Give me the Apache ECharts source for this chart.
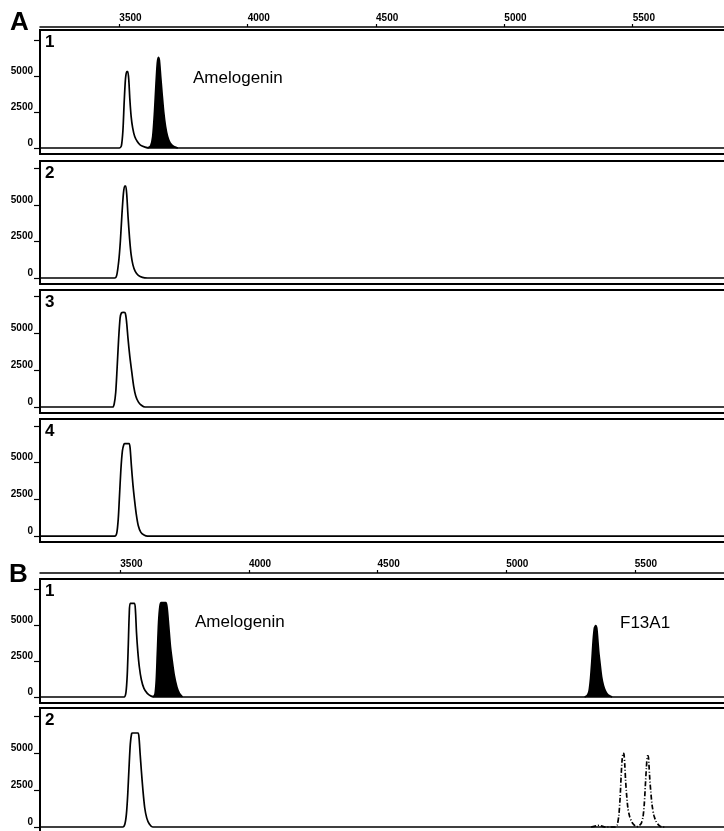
<!DOCTYPE html>
<html><head><meta charset="utf-8">
<script src="https://cdn.jsdelivr.net/npm/echarts@6/dist/echarts.min.js"></script>
<style>html,body{margin:0;padding:0;background:#fff}#c{width:724px;height:831px}</style>
</head><body><div id="c"></div>
<script>
// ---- data (size units vs. fluorescence) ----
const sizeTicks = [3500, 4000, 4500, 5000, 5500];
const yTicks = [0, 2500, 5000, 7500];
const yLabels = [0, 2500, 5000];
const panelLabels = ['A', 'B'];
const laneLabelsA = ['1', '2', '3', '4'];
const laneLabelsB = ['1', '2'];
const peakNames = ['Amelogenin', 'F13A1'];

const a1Open = [[3180,0],[3500,0],[3508,150],[3514,1200],[3519,3200],[3524,4800],[3529,5300],[3533,5300],[3537,4700],[3541,3400],[3546,2200],[3552,1400],[3560,800],[3570,450],[3582,200],[3600,60],[3615,0],[5900,0]];
const a1Filled = [[3610,0],[3622,150],[3630,800],[3637,2500],[3643,4500],[3648,5900],[3652,6300],[3656,6100],[3661,5000],[3667,3700],[3673,2500],[3680,1500],[3688,800],[3698,350],[3712,100],[3728,0]];
const a2Open = [[3180,0],[3482,0],[3490,200],[3498,1200],[3504,2500],[3510,4300],[3516,5800],[3521,6300],[3525,6300],[3529,5700],[3534,4200],[3540,2700],[3546,1600],[3553,900],[3562,450],[3574,180],[3590,40],[3610,0],[5900,0]];
const a3Open = [[3180,0],[3474,0],[3480,200],[3486,1000],[3491,2500],[3497,4500],[3503,6000],[3508,6350],[3516,6400],[3523,6350],[3528,5800],[3534,4600],[3541,3400],[3549,2300],[3556,1400],[3564,750],[3574,350],[3586,120],[3600,0],[5900,0]];
const a4Open = [[3180,0],[3482,0],[3490,200],[3496,1200],[3500,2500],[3506,4500],[3512,5800],[3518,6250],[3522,6300],[3538,6300],[3542,6000],[3547,4800],[3553,3500],[3559,2500],[3566,1500],[3574,700],[3584,250],[3598,50],[3610,0],[5900,0]];
const b1Open = [[3180,0],[3515,0],[3522,300],[3527,1500],[3531,3500],[3535,5800],[3539,6500],[3555,6500],[3559,6000],[3563,4500],[3568,3200],[3574,2100],[3582,1200],[3592,600],[3605,250],[3620,60],[3635,0],[5900,0]];
const b1FilledAmel = [[3628,0],[3635,200],[3640,1200],[3644,3000],[3649,5200],[3654,6300],[3659,6550],[3677,6550],[3682,6200],[3688,5000],[3695,3500],[3702,2500],[3710,1500],[3720,700],[3730,250],[3742,0]];
const b1FilledF13 = [[5305,0],[5315,100],[5322,400],[5328,1300],[5333,2500],[5338,3900],[5343,4800],[5348,4950],[5352,4800],[5356,4000],[5360,3100],[5365,2300],[5371,1400],[5378,800],[5386,400],[5396,150],[5412,0]];
const b2Open = [[3180,0],[3510,0],[3518,200],[3524,900],[3529,2200],[3534,4000],[3539,5600],[3544,6300],[3548,6350],[3569,6350],[3573,6000],[3577,5000],[3582,3800],[3588,2500],[3595,1300],[3603,600],[3613,200],[3626,0],[5900,0]];
const b2Dashed = [[5330,0],[5352,80],[5362,120],[5372,60],[5385,0],[5425,0],[5432,150],[5438,800],[5443,2000],[5447,3500],[5451,4600],[5455,5000],[5458,4900],[5461,4200],[5464,3200],[5468,2200],[5473,1300],[5480,700],[5489,320],[5498,120],[5507,20],[5515,60],[5525,250],[5532,700],[5537,1600],[5541,2800],[5545,4000],[5549,4800],[5552,4800],[5555,4200],[5558,3300],[5562,2400],[5567,1500],[5574,800],[5582,400],[5592,150],[5605,0],[5620,0]];

// ---- layout ----
const FONT = '"Liberation Sans", Arial, sans-serif';
const xRangeA = [3191, 5879];
const xRangeB = [3188, 5870];
const panels = [
  {top:30,  height:124, ymin:-417, ymax:8194, xr:xRangeA, axisOffset:3, lane:laneLabelsA[0]},
  {top:161, height:123, ymin:-411, ymax:8014, xr:xRangeA, lane:laneLabelsA[1]},
  {top:290, height:123, ymin:-405, ymax:7905, xr:xRangeA, lane:laneLabelsA[2]},
  {top:419, height:123, ymin:-405, ymax:7973, xr:xRangeA, lane:laneLabelsA[3]},
  {top:579, height:124, ymin:-417, ymax:8194, xr:xRangeB, axisOffset:6, lane:laneLabelsB[0]},
  {top:708, height:124, ymin:-338, ymax:8040, xr:xRangeB, lane:laneLabelsB[1]}
];
const plain = v => String(v);

const grid = [], xAxis = [], yAxis = [], graphic = [];
panels.forEach((p, i) => {
  grid.push({left:40, right:-6, top:p.top, height:p.height, show:true, borderColor:'#000', borderWidth:2,
    backgroundColor:'#fff', outerBoundsMode:'none', containLabel:false});
  const showTop = p.axisOffset !== undefined;
  xAxis.push({
    gridIndex:i, type:'value', min:p.xr[0], max:p.xr[1], position:'top', offset:showTop ? p.axisOffset : 0,
    show:showTop,
    axisLine:{show:true, onZero:false, lineStyle:{color:'#000', width:1.5}},
    axisTick:{show:true, customValues:sizeTicks, length:3, lineStyle:{color:'#000', width:1.2}},
    axisLabel:{show:true, customValues:sizeTicks, formatter:plain, align:'left', margin:4, fontSize:10, fontWeight:'bold', color:'#000', fontFamily:FONT},
    splitLine:{show:false}
  });
  yAxis.push({
    gridIndex:i, type:'value', min:p.ymin, max:p.ymax,
    axisLine:{show:false},
    axisTick:{show:true, customValues:yTicks, length:6, lineStyle:{color:'#000', width:1.2}},
    axisLabel:{customValues:yLabels, formatter:plain, fontSize:10, fontWeight:'bold', color:'#000', margin:7, fontFamily:FONT, verticalAlign:'bottom', lineHeight:10},
    splitLine:{show:false}
  });
  graphic.push({type:'text', left:45, top:p.top + 4, style:{text:p.lane, font:'bold 17px ' + FONT, fill:'#000'}});
});
graphic.push({type:'text', left:10, top:10, style:{text:panelLabels[0], font:'bold 26px ' + FONT, fill:'#000'}});
graphic.push({type:'text', left:9, top:562, style:{text:panelLabels[1], font:'bold 26px ' + FONT, fill:'#000'}});
graphic.push({type:'text', left:193, top:70, style:{text:peakNames[0], font:'17px ' + FONT, fill:'#000'}});
graphic.push({type:'text', left:195, top:614, style:{text:peakNames[0], font:'17px ' + FONT, fill:'#000'}});
graphic.push({type:'text', left:620, top:615, style:{text:peakNames[1], font:'17px ' + FONT, fill:'#000'}});

function trace(idx, data, opts = {}) {
  const s = {type:'line', xAxisIndex:idx, yAxisIndex:idx, data, symbol:'none', smooth:0.25, silent:true,
    lineStyle:{color:'#000', width:1.7, type: opts.dash || 'solid'}, z: opts.filled ? 4 : 3};
  if (opts.filled) s.areaStyle = {color:'#000', opacity:1, origin:0};
  return s;
}
const series = [
  trace(0, a1Open), trace(0, a1Filled, {filled:true}),
  trace(1, a2Open), trace(2, a3Open), trace(3, a4Open),
  trace(4, b1Open), trace(4, b1FilledAmel, {filled:true}), trace(4, b1FilledF13, {filled:true}),
  trace(5, b2Open), trace(5, b2Dashed, {dash:[5,2,1,2]})
];

const chart = echarts.init(document.getElementById('c'), null, {renderer:'canvas'});
chart.setOption({backgroundColor:'#fff', animation:false, grid, xAxis, yAxis, series, graphic});
</script></body></html>
